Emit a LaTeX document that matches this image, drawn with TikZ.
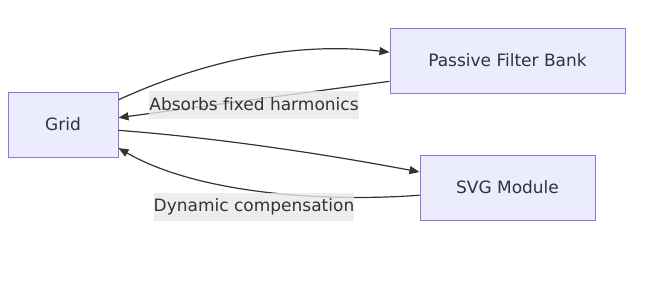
\documentclass[tikz,border=0pt]{standalone}
\usepackage{fontspec}
\setmainfont{DejaVu Sans}[Ligatures=NoCommon]
\usetikzlibrary{arrows.meta,positioning}
\definecolor{nodefill}{HTML}{ECECFF}
\definecolor{nodeline}{HTML}{9370DB}
\definecolor{ink}{HTML}{333333}
\definecolor{lblbg}{HTML}{E8E8E8}

\begin{document}
\begin{tikzpicture}[x=1pt, y=-1pt,
  box/.style={draw=nodeline, fill=nodefill, line width=1pt, minimum height=65pt, inner sep=0pt, font=\fontsize{17}{20}\selectfont, text=ink},
  arrow/.style={-{Triangle[length=10pt, width=8pt]}, draw=ink, line width=1.2pt},
  elabel/.style={fill=lblbg, fill opacity=0.8, text opacity=1, inner sep=0pt, minimum height=28pt, font=\fontsize{17}{20}\selectfont, text=ink},
]
\useasboundingbox (0,0) rectangle (646,285);

\node[box, minimum width=110pt] (grid) at (63,124.5) {Grid};
\node[box, minimum width=235pt] (pfb) at (507.5,60.5) {Passive Filter Bank};
\node[box, minimum width=175pt, below=61pt of pfb] (svg) {SVG Module};

\draw[arrow] (grid.24) .. controls (210,58) and (300,42) .. (pfb.176);
\draw[arrow] (pfb.190) -- (grid.7) node[elabel, pos=0.5, yshift=-5pt] (lblabs) {Absorbs fixed harmonics};
\draw[arrow] (grid.-6) .. controls (220,138) and (330,155) .. (svg.170);
\draw[arrow] (svg.185) .. controls (330,202) and (200,195) .. (grid.-23) node[elabel, pos=0.5, xshift=-12pt, yshift=-15pt] (lbldyn) {Dynamic compensation};

\end{tikzpicture}
\end{document}
